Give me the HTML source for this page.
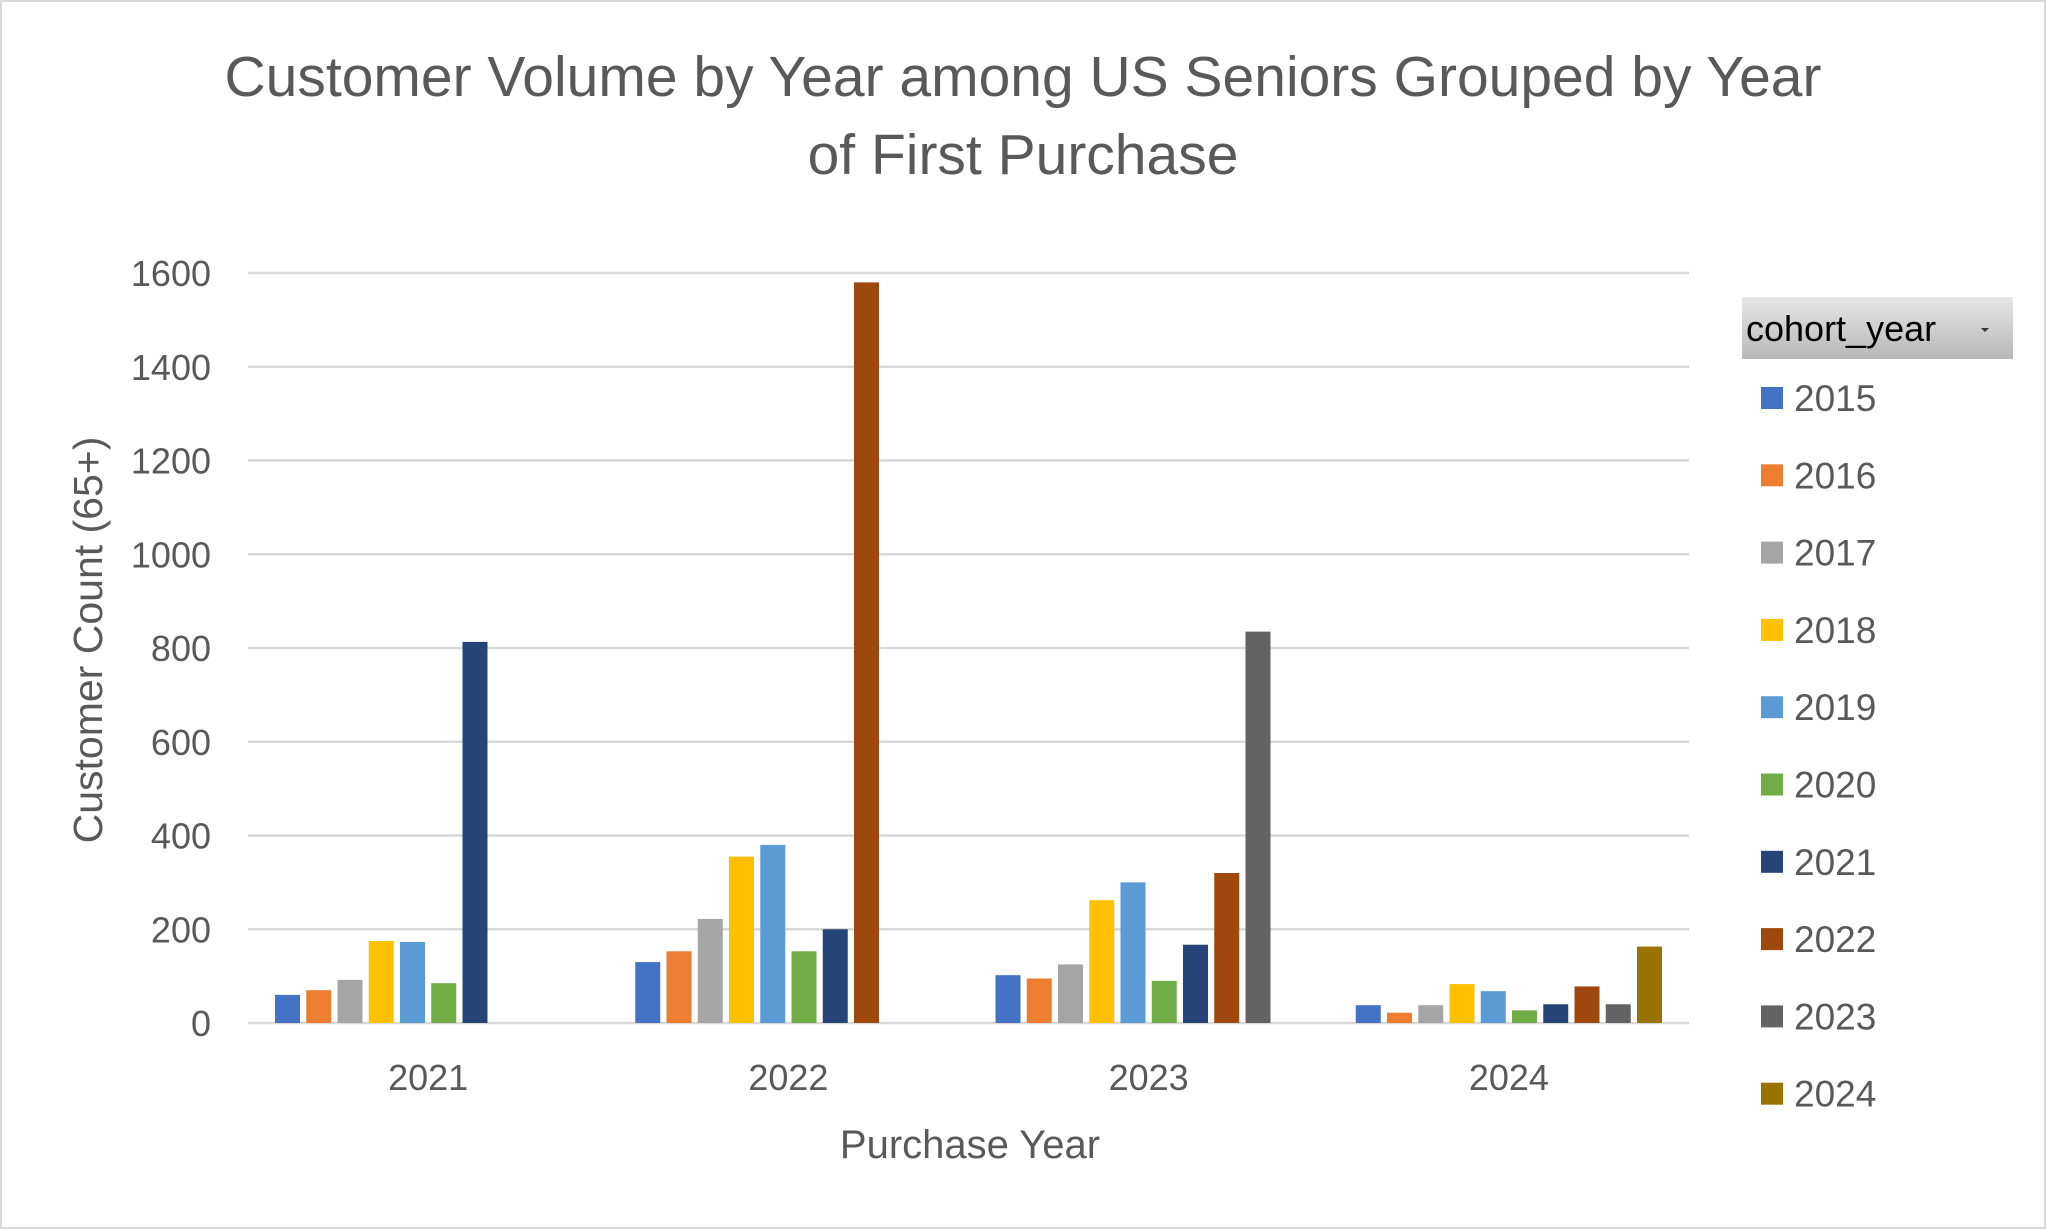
<!DOCTYPE html>
<html><head><meta charset="utf-8"><style>
html,body{margin:0;padding:0;background:#fff;}
svg{display:block;font-family:"Liberation Sans",sans-serif;}
</style></head><body>
<svg id="chart" width="2046" height="1229" viewBox="0 0 2046 1229">
<rect x="1" y="1" width="2044" height="1227" fill="#fff" stroke="#d9d9d9" stroke-width="2"/>
<g fill="#595959" font-size="57" text-anchor="middle">
<text x="1023" y="96">Customer Volume by Year among US Seniors Grouped by Year</text>
<text x="1023" y="174">of First Purchase</text>
</g>
<g id="grid"></g>
<g id="bars"></g>
<g id="xlabels"></g>
<text x="970" y="1158" text-anchor="middle" font-size="40" fill="#595959">Purchase Year</text>
<text transform="translate(102,640) rotate(-90)" text-anchor="middle" font-size="41" fill="#595959">Customer Count (65+)</text>
<defs><linearGradient id="hg" x1="0" y1="0" x2="0" y2="1"><stop offset="0" stop-color="#e6e6e6"/><stop offset="1" stop-color="#b8b8b8"/></linearGradient></defs>
<g>
<rect x="1742" y="297" width="271" height="62" fill="url(#hg)"/>
<text x="1746" y="341" font-size="36" fill="#000">cohort_year</text>
<polygon points="1981,328 1989,328 1985,332" fill="#333"/>
</g>
<g id="legend"></g>
</svg>
<script>
const purchaseYears=["2021","2022","2023","2024"];
const cohorts=["2015","2016","2017","2018","2019","2020","2021","2022","2023","2024"];
const colors=["#4472c4","#ed7d31","#a5a5a5","#ffc000","#5b9bd5","#70ad47","#264478","#9e480e","#636363","#997300"];
const v2015=[60,130,102,38];
const v2016=[70,153,95,22];
const v2017=[92,222,125,38];
const v2018=[175,355,262,83];
const v2019=[173,380,300,68];
const v2020=[85,153,90,27];
const v2021=[813,200,167,40];
const v2022=[null,1580,320,78];
const v2023=[null,null,835,40];
const v2024=[null,null,null,163];
const yTicks=[0,200,400,600,800,1000,1200,1400,1600];
const series=[v2015,v2016,v2017,v2018,v2019,v2020,v2021,v2022,v2023,v2024];
const NS="http://www.w3.org/2000/svg";
const X0=248,X1=1689,Y0=1023,Y1=273,YMAX=1600;
const y=v=>Y0-(v/YMAX)*(Y0-Y1);
const gw=(X1-X0)/purchaseYears.length;
const slot=31.25,bw=25;
const bx=(g,s)=>X0+g*gw+(gw-slot*cohorts.length)/2+s*slot+(slot-bw)/2;
function mk(t,a,p){const e=document.createElementNS(NS,t);for(const k in a)e.setAttribute(k,a[k]);p.appendChild(e);return e;}
const grid=document.getElementById('grid');
yTicks.forEach(t=>{
 const l=mk('line',{x1:X0,x2:X1,y1:y(t),y2:y(t),stroke:'#d9d9d9','stroke-width':2.5},grid);
 
 
 const tx=mk('text',{x:211,y:y(t)+13,'text-anchor':'end','font-size':36,fill:'#595959'},grid);
 tx.textContent=t;
 
 
});
const bars=document.getElementById('bars');
series.forEach((arr,s)=>{arr.forEach((v,g)=>{
 if(v==null)return;
 const r=mk('rect',{x:bx(g,s),y:y(v),width:bw,height:Y0-y(v),fill:colors[s]},bars);
 
 
});});
const xl=document.getElementById('xlabels');
purchaseYears.forEach((p,g)=>{
 const t=mk('text',{x:X0+g*gw+gw/2,y:1090,'text-anchor':'middle','font-size':36,fill:'#595959'},xl);
 t.textContent=p;
 
 
});
const lg=document.getElementById('legend');
cohorts.forEach((c,i)=>{
 const cy=398+i*77.3;
 const g=mk('g',{},lg);
 
 
 mk('rect',{x:1761,y:cy-11,width:22,height:22,fill:colors[i]},g);
 const t=mk('text',{x:1794,y:cy+13,'font-size':37,fill:'#595959'},g);
 t.textContent=c;
});
</script>
</body></html>
